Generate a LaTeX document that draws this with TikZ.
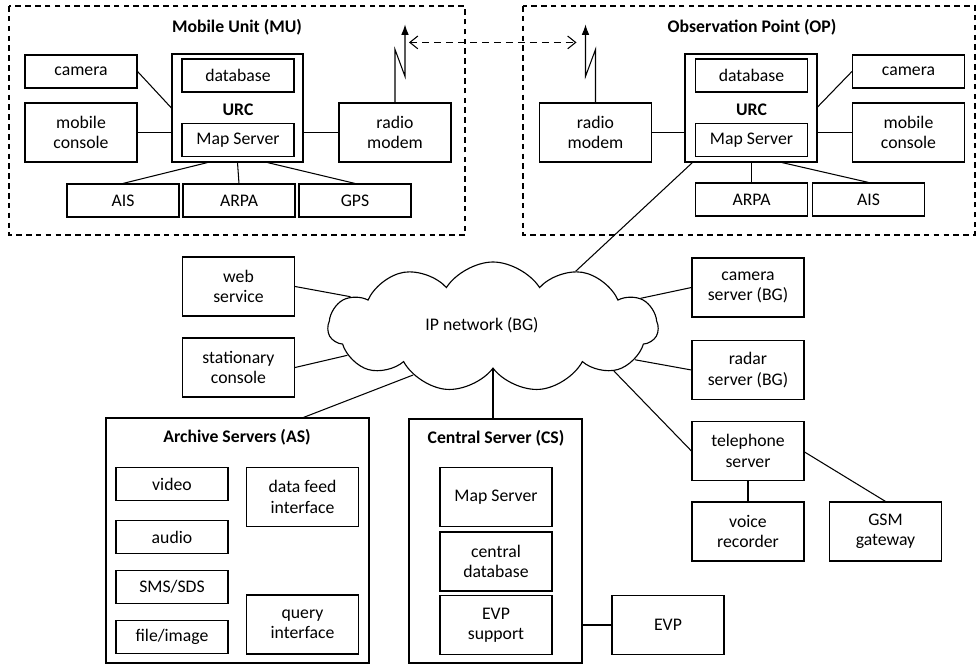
\documentclass[tikz,border=0pt]{standalone}
\usepackage{fontspec}
\setmainfont{Carlito}
\usetikzlibrary{shapes.symbols,calc,arrows.meta}

\tikzset{
  box/.style={draw,line width=0.8pt,minimum width=28mm,minimum height=8.25mm,inner sep=1pt,align=center,font=\fontsize{12.6}{14.5}\selectfont},
  tall/.style={box,minimum height=14.75mm},
  frame/.style={draw,line width=0.8pt,inner sep=0pt},
  group/.style={draw,line width=0.8pt,dash pattern=on 4pt off 3pt},
  title/.style={font=\fontsize{12.6}{14.5}\selectfont\bfseries},
  link/.style={line width=0.75pt}
}

\begin{document}
\begin{tikzpicture}[x=0.25mm,y=-0.25mm]
\useasboundingbox (0,0) rectangle (977,664);

% mobile unit
\draw[group] (9,6) rectangle (465,235);
\node[title] (mutitle) at (237,27) {Mobile Unit (MU)};
\node[frame,minimum width=32.75mm,minimum height=27mm] (muurc) at (237.5,108) {};
\node[box] (mudb) at (238,75.5) {database};
\node[title] (murcname) at (238,110) {URC};
\node[box] (mumap) at (238,140) {Map Server};
\node[box] (mucam) at (81,71.5) {camera};
\node[tall] (mucon) at (81,132.5) {mobile\\console};
\node[tall] (muradio) at (395,132.5) {radio\\modem};
\node[box] (muais) at (123,200.5) {AIS};
\node[box] (muarpa) at (239,200.5) {ARPA};
\node[box] (mugps) at (355,200.5) {GPS};

\draw[link] (mucam.east) -- (muurc.west);
\draw[link] (mucon.east) -- (mucon.east -| muurc.west);
\draw[link] (muradio.west) -- (muradio.west -| muurc.east);
\draw[link] ($(muurc.south)+(-30,0)$) -- (muais.north);
\draw[link] (muurc.south) -- (muarpa.north);
\draw[link] ($(muurc.south)+(30,0)$) -- (mugps.north);

% observation point
\draw[group] (523,6) rectangle (975,235);
\node[title] (optitle) at (752,27) {Observation Point (OP)};
\node[frame,minimum width=33mm,minimum height=27mm] (opurc) at (751,108) {};
\node[box] (opdb) at (751.5,75.5) {database};
\node[title] (oprcname) at (751.5,110) {URC};
\node[box] (opmap) at (751.5,140) {Map Server};
\node[tall] (opradio) at (595.5,132.5) {radio\\modem};
\node[box] (opcam) at (908.5,71.5) {camera};
\node[tall] (opcon) at (908.5,132.5) {mobile\\console};
\node[box] (oparpa) at (751.5,199.5) {ARPA};
\node[box] (opais) at (868.5,199.5) {AIS};

\draw[link] (opradio.east) -- (opradio.east -| opurc.west);
\draw[link] ($(opurc.east)+(0,-1)$) -- (opcam.west);
\draw[link] (opcon.west) -- (opcon.west -| opurc.east);
\draw[link] (oparpa.north |- opurc.south) -- (oparpa.north);
\draw[link] ($(opurc.south)+(31,0)$) -- (opais.north);

% radio link
\draw[link,-{Latex[length=2.6mm,width=1.9mm]}] (muradio.north) -- ++(0,-53) -- ++(10,27) -- ++(0,-52) coordinate (muant);
\draw[link,-{Latex[length=2.6mm,width=1.9mm]}] (opradio.north) -- ++(0,-53) -- ++(-10,27) -- ++(0,-52) coordinate (opant);
\draw[link,dash pattern=on 5pt off 3.5pt,{Straight Barb[length=2mm,width=3.2mm]}-{Straight Barb[length=2mm,width=3.2mm]}]
  ($(muant)+(4,18)$) -- ($(opant)+(-9,18)$);

% ip network
\node[cloud,draw,line width=0.8pt,cloud puffs=11,cloud puff arc=115,aspect=2.5,
      minimum width=82.5mm,minimum height=32.5mm] (net) at (493,327) {};
\node[font=\fontsize{12.6}{14.5}\selectfont] (netname) at (482,325) {IP network (BG)};
\node[tall] (web) at (238.5,286.5) {web\\service};
\node[tall] (stat) at (238.5,367.5) {stationary\\console};
\node[tall] (camsrv) at (748,287.5) {camera\\server (BG)};
\node[tall] (radsrv) at (748,370) {radar\\server (BG)};
\node[tall] (telsrv) at (748,451) {telephone\\server};
\node[tall] (voice) at (748,531.5) {voice\\recorder};
\node[tall] (gsm) at (885.5,531.5) {GSM\\gateway};

\draw[link] (web.east) -- (net.168);
\draw[link] (stat.east) -- (net.191);
\draw[link] (camsrv.west) -- (net.11);
\draw[link] (radsrv.west) -- (net.347);
\draw[link] (telsrv.west) -- (net.340);
\draw[link] ($(opurc.south west)+(8,0)$) -- (net.34);
\draw[link] (telsrv.south) -- (voice.north);
\draw[link] ($(telsrv.east)+(0,1)$) -- (gsm.north);

% archive servers
\node[frame,minimum width=65.75mm,minimum height=61.25mm] (as) at (237.5,540.5) {};
\node[title] (astitle) at (237,437) {Archive Servers (AS)};
\node[box] (video) at (172,484) {video};
\node[box] (audio) at (172,537) {audio};
\node[box] (sms) at (172,587) {SMS/SDS};
\node[box] (file) at (172,637) {file/image};
\node[tall] (feed) at (302.5,497) {data feed\\interface};
\node[tall] (query) at (302.5,624.5) {query\\interface};
\draw[link] ($(as.north)+(66,0)$) -- (net.211);

% central server
\node[frame,minimum width=43.25mm,minimum height=61mm] (cs) at (495.5,541) {};
\node[title] (cstitle) at (496,438) {Central Server (CS)};
\node[tall] (csmap) at (496,497) {Map Server};
\node[tall] (csdb) at (496,561.5) {central\\database};
\node[tall] (csevp) at (496,625) {EVP\\support};
\node[tall] (evp) at (668,625) {EVP};
\draw[link] (net.south) -- (net.south |- cs.north);
\draw[link] (csevp.east -| cs.east) -- (evp.west);
\end{tikzpicture}
\end{document}
